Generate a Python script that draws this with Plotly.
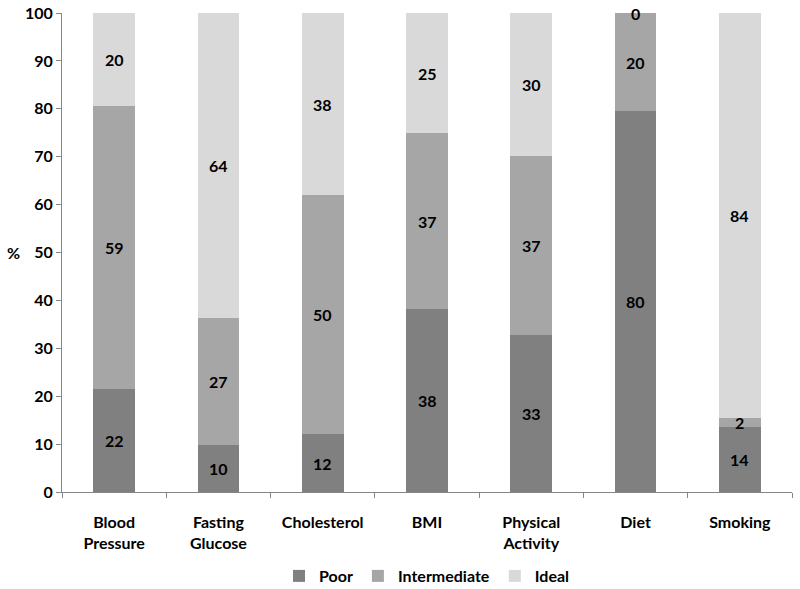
import plotly.graph_objects as go

categories = ["Blood<br>Pressure", "Fasting<br>Glucose", "Cholesterol", "BMI",
              "Physical<br>Activity", "Diet", "Smoking"]
poor = [21.5, 9.9, 12.1, 38.2, 32.8, 79.5, 13.6]
intermediate = [59.0, 26.4, 49.9, 36.7, 37.3, 20.5, 1.9]
ideal = [19.5, 63.7, 38.0, 25.1, 29.9, 0.0, 84.5]

poor_labels = ["22", "10", "12", "38", "33", "80", "14"]
intermediate_labels = ["59", "27", "50", "37", "37", "20", "2"]
ideal_labels = ["20", "64", "38", "25", "30", "0", "84"]

series = [
    ("Poor", poor, poor_labels, "#808080"),
    ("Intermediate", intermediate, intermediate_labels, "#a6a6a6"),
    ("Ideal", ideal, ideal_labels, "#d9d9d9"),
]

FONT = "Lato, 'Open Sans', sans-serif"
W, H = 800, 589

fig = go.Figure()
base = [0.0] * len(categories)
annotations = []
for name, vals, labels, color in series:
    fig.add_trace(go.Bar(x=categories, y=vals, name=name,
                         marker=dict(color=color, line=dict(width=0))))
    for i, (v, lab) in enumerate(zip(vals, labels)):
        annotations.append(dict(x=categories[i], y=base[i] + v / 2, text="<b>%s</b>" % lab,
                                showarrow=False, xref="x", yref="y",
                                font=dict(family=FONT, size=16, color="#000000")))
        base[i] += v

annotations.append(dict(x=0.0, xref="paper", xanchor="center", xshift=-49, y=50, yref="y",
                        text="<b>%</b>", showarrow=False,
                        font=dict(family=FONT, size=16, color="#000000")))

fig.update_layout(
    barmode="stack",
    bargap=0.6,
    width=W, height=H,
    margin=dict(l=62, r=8, t=13, b=97, autoexpand=False),
    paper_bgcolor="white", plot_bgcolor="white",
    font=dict(family=FONT, size=16, color="#000000"),
    showlegend=True,
    legend=dict(orientation="h", x=0.5, xanchor="center", yref="container",
                y=(H - 576) / H, yanchor="middle",
                font=dict(family=FONT, size=16, color="#000000", weight="bold"),
                traceorder="normal", itemwidth=30),
    annotations=annotations,
)
fig.update_xaxes(type="category", tickson="boundaries", ticks="outside", ticklen=5,
                 tickcolor="#868686", showline=True, linecolor="#868686", linewidth=1,
                 tickfont=dict(family=FONT, size=16, color="#000000", weight="bold"),
                 ticklabelstandoff=16, automargin=False, showgrid=False)
fig.update_yaxes(range=[0, 100], dtick=10, ticks="outside", ticklen=5,
                 tickcolor="#868686", showline=True, linecolor="#868686", linewidth=1,
                 tickfont=dict(family=FONT, size=16, color="#000000", weight="bold"),
                 automargin=False, showgrid=False, zeroline=False)

fig.write_html("out.html",
               config={"displayModeBar": False},
               post_script="document.body.style.margin='0';document.body.style.overflow='hidden';")
